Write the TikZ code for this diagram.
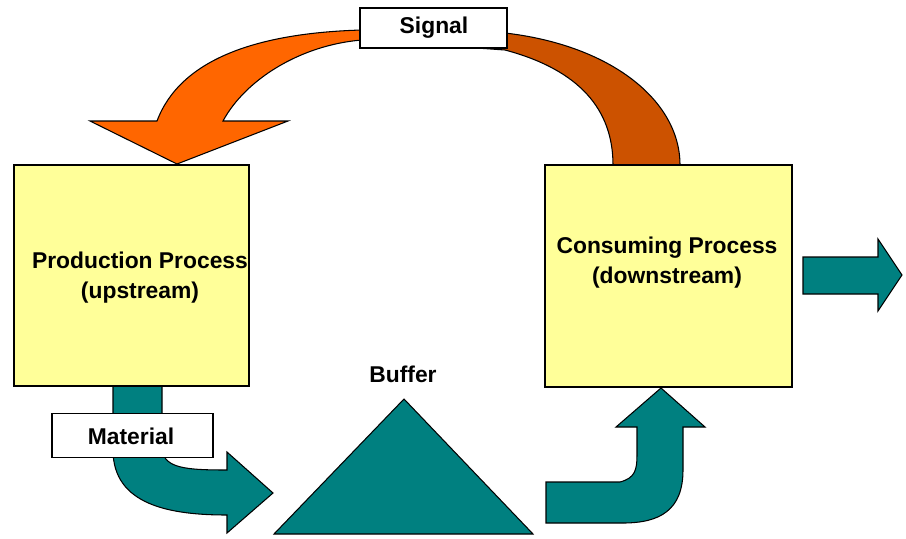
\documentclass[tikz,border=0pt]{standalone}
\usepackage{fontspec}
\setmainfont{Liberation Sans}
\definecolor{sigleft}{HTML}{FF6600}
\definecolor{sigright}{HTML}{CC5200}
\definecolor{tealc}{HTML}{008080}
\definecolor{boxyellow}{HTML}{FFFF99}
\begin{document}
\begin{tikzpicture}[x=0.02cm,y=-0.02cm, line join=miter,
  shp/.style={draw=black, line width=0.6pt},
  box/.style={draw=black, line width=0.7pt, fill=boxyellow, inner sep=0pt},
  tag/.style={draw=black, line width=0.7pt, fill=white, inner sep=0pt},
  lbl/.style={font=\bfseries\fontsize{13}{17}\selectfont, align=center, inner sep=0pt}]
\useasboundingbox (0,0) rectangle (906,538);

% signal arcs
\path[shp, fill=sigright] (434,33) -- (505,33) .. controls (610,45) and (680,100) .. (680,165)
  -- (613,165) .. controls (613,110) and (580,70) .. (505,50) -- (434,45) -- cycle;
\path[shp, fill=sigleft] (434,30) -- (362,30) .. controls (255,33) and (180,60) .. (157,121)
  -- (90,121) -- (177,164) -- (288,121) -- (223,121)
  .. controls (245,80) and (300,45) .. (362,40) -- (434,40) -- cycle;

% material arrow
\path[shp, fill=tealc] (113,386) -- (113,450) .. controls (113,505) and (170,515) .. (227,515)
  -- (227,533) -- (273,493) -- (227,452) -- (227,470)
  .. controls (185,470) and (165,468) .. (162,450) -- (162,386) -- cycle;

% bent-up arrow into consuming process
\path[shp, fill=tealc] (546,482) -- (620,482) .. controls (635,478) and (637,470) .. (637,455)
  -- (637,427) -- (616,427) -- (661,388) -- (705,427) -- (683,427) -- (683,470)
  .. controls (683,510) and (660,523) .. (623,523) -- (546,523) -- cycle;

% outgoing arrow
\path[shp, fill=tealc] (803,257) -- (878,257) -- (878,239) -- (902,275) -- (878,311)
  -- (878,294) -- (803,294) -- cycle;

% buffer triangle
\path[shp, fill=tealc] (404,399) -- (533,534) -- (274,534) -- cycle;

% boxes
\node[box, minimum width=4.7cm, minimum height=4.42cm] (prod) at (131.5,275.5) {};
\node[box, minimum width=4.94cm, minimum height=4.44cm] (cons) at (668.5,276) {};
\node[tag, minimum width=2.94cm, minimum height=0.8cm] (signal) at (433.5,28) {};
\node[tag, minimum width=3.22cm, minimum height=0.88cm] (material) at (132.5,435.5) {};

% labels
\node[lbl] (prodtxt) at (140,277.5) {Production Process\\(upstream)};
\node[lbl] (constxt) at (667,263) {Consuming Process\\(downstream)};
\node[lbl] (sigtxt) at (434,28) {Signal};
\node[lbl] (mattxt) at (131,436) {Material};
\node[lbl] (buftxt) at (403,374) {Buffer};
\end{tikzpicture}
\end{document}
